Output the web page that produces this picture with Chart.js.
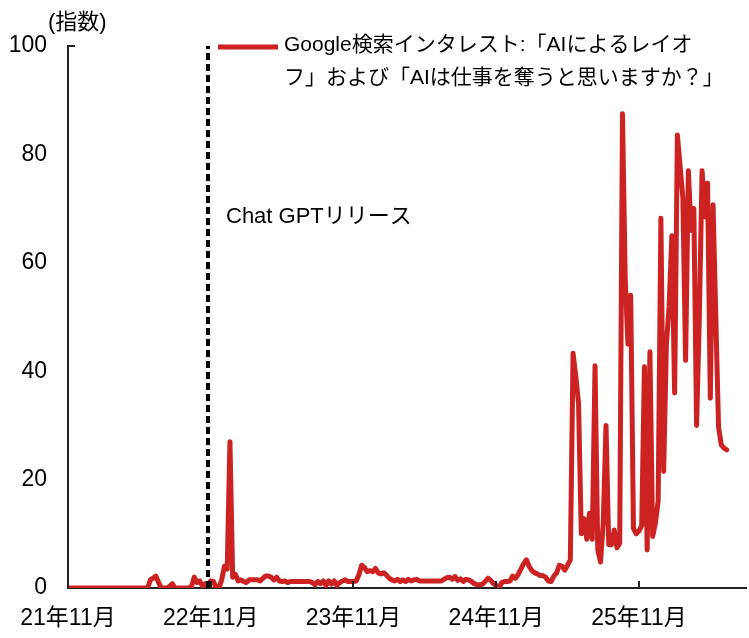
<!DOCTYPE html>
<html>
<head>
<meta charset="utf-8">
<script src="https://cdn.jsdelivr.net/npm/chart.js@4.4.1/dist/chart.umd.min.js"></script>
<style>
  html, body { margin: 0; padding: 0; background: #fff; }
  #wrap { width: 749px; height: 638px; }
</style>
</head>
<body>
<div id="wrap"><canvas id="c" width="749" height="638"></canvas></div>
<script>
// Weekly Google search interest (index), week 0 = Nov 2021
const searchIndex = [
  0,0,0,0,0,0,0,0,0,0, 0,0,0,0,0,0,0,0,0,0, 0,0,0,0,0,0,0,0,0,0,
  1.5,1.8,2.2,1,0,0,0,0.3,0.8,0,
  0,0,0,0,0,0.3,2,1,1.3,0.3,
  0.8,0.2,1.3,1.2,0,0,1.5,4,3.5,27,
  2,2.5,1.3,1.5,1.2,1,1.5,1.5,1.5,1.5,
  1.3,1.8,2.2,2.2,2,1.5,2,1.3,1.2,1.3,
  1,1.2,1.2,1.2,1.2,1.2,1.2,1.2,1.2,1,
  0.6,1.2,0.8,1.3,0.5,1.3,0.7,1.3,0.5,1,
  1.3,1.5,1.2,1.2,1.2,1.3,2.5,4.2,3.8,3,
  3.2,3,3.6,2.8,2.6,2.8,2.4,1.8,1.5,1.3,
  1.6,1.2,1.5,1.2,1.6,1.3,1.5,1.6,1.3,1.3,
  1.3,1.3,1.3,1.3,1.3,1.3,1.3,1.6,1.9,2,
  1.6,2.1,1.4,1.7,1.2,1.6,1.5,1.2,0.8,0.6,
  0.6,0.7,1.2,1.8,1.4,0.8,0.5,0,1,1.2,
  1.2,1.3,2.2,1.8,2.5,3.5,4.5,5.2,4,3.2,
  2.8,2.6,2.3,2.3,2,1.3,1.2,2.2,2.8,4.2,
  4,3.3,4.2,5.2,43.3,39,34,10,12.8,9,
  13.8,9,41,7,4.8,12,30,8,8,10.7,
  7.4,8.3,87.5,57,45,54,11,10,10.5,11.5,
  40.8,7,43.6,9.5,12,16,68.2,21.5,45,52,
  65,36,83.6,77.8,72,42,77,66,70,30,
  50,77,68.5,74.7,35,70.7,50,29.7,26.4,25.8,
  25.5
];
const tickWeeks = [0, 52, 104, 156, 208];
const tickLabels = ['21年11月', '22年11月', '23年11月', '24年11月', '25年11月'];
const yTicks = [0, 20, 40, 60, 80, 100];
const chatGptWeek = 51;
const chatGptLabel = 'Chat GPTリリース';
const chatGptLabelLevel = 68.5;
const seriesName = ['Google検索インタレスト:「AIによるレイオ', 'フ」および「AIは仕事を奪うと思いますか？」'];
const unitLabel = '(指数)';

const FONT = "'Liberation Sans', Arial, 'Noto Sans CJK JP', sans-serif";
const RED = '#CC2222';

const overlay = {
  id: 'overlay',
  afterDatasetsDraw(chart) {
    const { ctx, scales: { x, y }, chartArea } = chart;
    ctx.save();
    // inward x ticks
    ctx.strokeStyle = '#222';
    ctx.lineWidth = 2;
    tickWeeks.forEach(w => {
      const px = Math.round(x.getPixelForValue(w));
      ctx.beginPath();
      ctx.moveTo(px, chartArea.bottom);
      ctx.lineTo(px, chartArea.bottom - 7);
      ctx.stroke();
    });
    // top tick of y axis
    const topY = Math.round(y.getPixelForValue(100));
    ctx.beginPath();
    ctx.moveTo(chartArea.left - 1, topY);
    ctx.lineTo(chartArea.left + 7, topY);
    ctx.stroke();

    ctx.fillStyle = '#000';
    ctx.textBaseline = 'middle';
    ctx.textAlign = 'left';
    ctx.font = '22px ' + FONT;
    ctx.fillText(unitLabel, 48, 23);
    ctx.fillText(chatGptLabel, x.getPixelForValue(chatGptWeek) + 18, y.getPixelForValue(chatGptLabelLevel));

    // legend
    ctx.strokeStyle = RED;
    ctx.lineWidth = 5;
    ctx.lineCap = 'butt';
    ctx.beginPath();
    ctx.moveTo(218, 47);
    ctx.lineTo(278, 47);
    ctx.stroke();
    ctx.font = '21px ' + FONT;
    ctx.fillText(seriesName[0], 284, 45);
    ctx.fillText(seriesName[1], 284, 78);
    ctx.restore();
  }
};

new Chart(document.getElementById('c'), {
  type: 'line',
  data: {
    datasets: [
      {
        label: chatGptLabel,
        data: [{ x: chatGptWeek, y: 0 }, { x: chatGptWeek, y: 100 }],
        borderColor: '#000',
        borderWidth: 4,
        borderDash: [7, 4],
        pointRadius: 0,
        order: 0
      },
      {
        label: seriesName.join(''),
        data: searchIndex.map((v, i) => ({ x: i, y: v })),
        borderColor: RED,
        borderWidth: 5,
        borderJoinStyle: 'round',
        borderCapStyle: 'round',
        pointRadius: 0,
        tension: 0,
        order: 1
      }
    ]
  },
  options: {
    responsive: false,
    animation: false,
    devicePixelRatio: 1,
    layout: { padding: { top: 46, right: 3, bottom: 0, left: 0 } },
    plugins: { legend: { display: false }, tooltip: { enabled: false } },
    scales: {
      x: {
        type: 'linear',
        min: 0,
        max: 247,
        grid: { display: false, drawTicks: false },
        border: { display: true, color: '#222', width: 2 },
        afterBuildTicks: s => { s.ticks = tickWeeks.map(v => ({ value: v })); },
        afterFit: s => { s.height = 50; },
        ticks: {
          autoSkip: false,
          maxRotation: 0,
          padding: 17,
          color: '#000',
          font: { size: 23, family: FONT },
          callback: v => tickLabels[tickWeeks.indexOf(v)]
        }
      },
      y: {
        min: 0,
        max: 100,
        grid: { display: false, drawTicks: false },
        border: { display: true, color: '#222', width: 2 },
        afterBuildTicks: s => { s.ticks = yTicks.map(v => ({ value: v })); },
        afterFit: s => { s.width = 68; },
        ticks: {
          padding: 21,
          color: '#000',
          font: { size: 23, family: FONT }
        }
      }
    }
  },
  plugins: [overlay]
});
</script>
</body>
</html>
